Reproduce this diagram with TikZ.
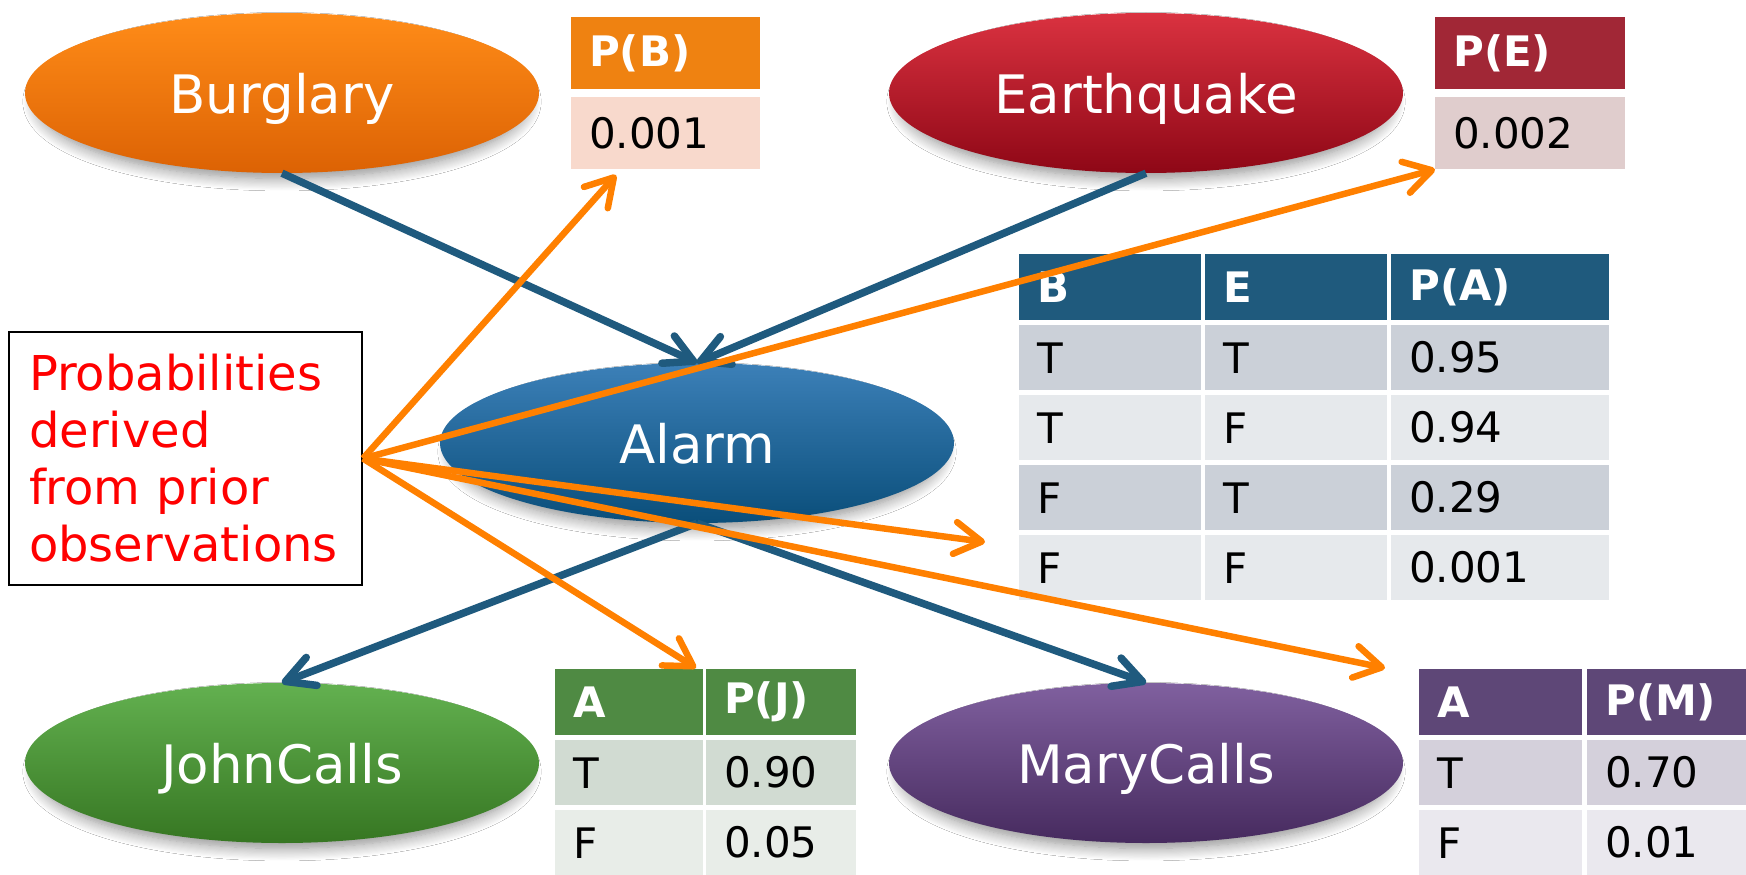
\documentclass[tikz,border=0pt]{standalone}
\usepackage{fontspec}
\setmainfont{DejaVu Sans}
\usetikzlibrary{arrows.meta,shapes.geometric,shadows.blur}

% palette
\definecolor{linkblue}{HTML}{1F5A7E}
\definecolor{evidence}{HTML}{FF8000}
\definecolor{notered}{HTML}{FF0000}
\definecolor{pbhead}{HTML}{EF8211}
\definecolor{pbval}{HTML}{F8D9CC}
\definecolor{pehead}{HTML}{A12736}
\definecolor{peval}{HTML}{E0CDCD}
\definecolor{pahead}{HTML}{1F5A7D}
\definecolor{padark}{HTML}{CBD0D8}
\definecolor{palight}{HTML}{E6E9EC}
\definecolor{pjhead}{HTML}{4F8A43}
\definecolor{pjdark}{HTML}{D1DBD2}
\definecolor{pjlight}{HTML}{E8EDE8}
\definecolor{pmhead}{HTML}{5E4777}
\definecolor{pmdark}{HTML}{D4D0DB}
\definecolor{pmlight}{HTML}{EAE8EE}

\tikzset{
  var/.style={ellipse, draw=none, minimum width=514pt, minimum height=160pt,
    inner sep=0pt, text=white, text depth=0pt, font=\fontsize{53}{60}\selectfont,
    blur shadow={shadow xshift=0pt, shadow yshift=-9pt, shadow scale=0.96,
      shadow blur radius=13pt, shadow blur steps=12, shadow opacity=45}},
  cellbase/.style={rectangle, anchor=north west, inner xsep=18pt,
    inner ysep=0pt, align=left, font=\fontsize{42}{48}\selectfont},
  hdr/.style={cellbase, text=white, font=\bfseries\fontsize{42}{48}\selectfont},
  note/.style={rectangle, draw=black, line width=2pt, minimum width=353pt,
    minimum height=253pt, text width=313pt, inner xsep=20pt, align=left,
    text=notered, font=\fontsize{48}{57}\selectfont},
  dep/.style={line width=7.5pt, draw=linkblue,
    -{Straight Barb[length=28pt,width=30pt,round]}},
  obs/.style={line width=6.5pt, draw=evidence,
    -{Straight Barb[length=27pt,width=32pt,round]}},
}

% one table cell: name, x, y (top left), text width, height, style, text
\newcommand\cptcell[7]{%
  \node[#6, text width=#4pt, minimum height=#5pt] (#1) at (#2,#3) {#7};}

\begin{document}
\begin{tikzpicture}[x=1pt,y=-1pt]
\useasboundingbox (0,0) rectangle (1746,875);
\fill[white] (0,0) rectangle (1746,875);

% network variables
\node[var, top color={rgb,255:red,255;green,140;blue,24}, bottom color={rgb,255:red,220;green,98;blue,4}]
  (burglary) at (282,93) {Burglary};
\node[var, top color={rgb,255:red,218;green,50;blue,64}, bottom color={rgb,255:red,142;green,7;blue,22}]
  (earthquake) at (1146,93) {Earthquake};
\node[var, top color={rgb,255:red,60;green,128;blue,184}, bottom color={rgb,255:red,10;green,78;blue,122}]
  (alarm) at (697,443) {Alarm};
\node[var, top color={rgb,255:red,99;green,177;blue,80}, bottom color={rgb,255:red,54;green,118;blue,34}]
  (john) at (282,763) {JohnCalls};
\node[var, top color={rgb,255:red,128;green,96;blue,159}, bottom color={rgb,255:red,70;green,42;blue,94}]
  (mary) at (1146,763) {MaryCalls};

% prior of Burglary
\cptcell{pbh}{571}{17}{153}{72}{hdr, fill=pbhead}{P(B)}
\cptcell{pbv}{571}{97}{153}{72}{cellbase, fill=pbval}{0.001}

% prior of Earthquake
\cptcell{peh}{1435}{17}{154}{72}{hdr, fill=pehead}{P(E)}
\cptcell{pev}{1435}{97}{154}{72}{cellbase, fill=peval}{0.002}

% conditional table of Alarm
\cptcell{pah1}{1019}{254}{146}{66}{hdr, fill=pahead}{B}
\cptcell{pah2}{1205}{254}{146}{66}{hdr, fill=pahead}{E}
\cptcell{pah3}{1391}{254}{182}{66}{hdr, fill=pahead}{P(A)}
\cptcell{pa11}{1019}{325}{146}{65}{cellbase, fill=padark}{T}
\cptcell{pa12}{1205}{325}{146}{65}{cellbase, fill=padark}{T}
\cptcell{pa13}{1391}{325}{182}{65}{cellbase, fill=padark}{0.95}
\cptcell{pa21}{1019}{395}{146}{65}{cellbase, fill=palight}{T}
\cptcell{pa22}{1205}{395}{146}{65}{cellbase, fill=palight}{F}
\cptcell{pa23}{1391}{395}{182}{65}{cellbase, fill=palight}{0.94}
\cptcell{pa31}{1019}{465}{146}{65}{cellbase, fill=padark}{F}
\cptcell{pa32}{1205}{465}{146}{65}{cellbase, fill=padark}{T}
\cptcell{pa33}{1391}{465}{182}{65}{cellbase, fill=padark}{0.29}
\cptcell{pa41}{1019}{535}{146}{65}{cellbase, fill=palight}{F}
\cptcell{pa42}{1205}{535}{146}{65}{cellbase, fill=palight}{F}
\cptcell{pa43}{1391}{535}{182}{65}{cellbase, fill=palight}{0.001}

% conditional table of JohnCalls
\cptcell{pjh1}{555}{669}{112}{66}{hdr, fill=pjhead}{A}
\cptcell{pjh2}{706}{669}{114}{66}{hdr, fill=pjhead}{P(J)}
\cptcell{pj11}{555}{740}{112}{65}{cellbase, fill=pjdark}{T}
\cptcell{pj12}{706}{740}{114}{65}{cellbase, fill=pjdark}{0.90}
\cptcell{pj21}{555}{810}{112}{65}{cellbase, fill=pjlight}{F}
\cptcell{pj22}{706}{810}{114}{65}{cellbase, fill=pjlight}{0.05}

% conditional table of MaryCalls
\cptcell{pmh1}{1419}{669}{127}{66}{hdr, fill=pmhead}{A}
\cptcell{pmh2}{1587}{669}{134}{66}{hdr, fill=pmhead}{P(M)}
\cptcell{pm11}{1419}{740}{127}{65}{cellbase, fill=pmdark}{T}
\cptcell{pm12}{1587}{740}{134}{65}{cellbase, fill=pmdark}{0.70}
\cptcell{pm21}{1419}{810}{127}{65}{cellbase, fill=pmlight}{F}
\cptcell{pm22}{1587}{810}{134}{65}{cellbase, fill=pmlight}{0.01}

% note on where the numbers come from
\node[note] (note) at (185.5,458.5) {Probabilities\\derived\\from prior\\observations};

% causal links
\draw[dep] (burglary.south) -- (alarm.north);
\draw[dep] (earthquake.south) -- (alarm.north);
\draw[dep] (alarm.south) -- (john.north);
\draw[dep] (alarm.south) -- (mary.north);

% pointers from the note to each table
\coordinate (tB) at (616,175);
\coordinate (tA) at (985,542);
\coordinate (tJ) at (696,668);
\coordinate (tM) at (1385,668);
\draw[obs] (note.east) -- (tB);
\draw[obs] (note.east) -- (pev.south west);
\draw[obs] (note.east) -- (tA);
\draw[obs] (note.east) -- (tJ);
\draw[obs] (note.east) -- (tM);
\end{tikzpicture}
\end{document}
